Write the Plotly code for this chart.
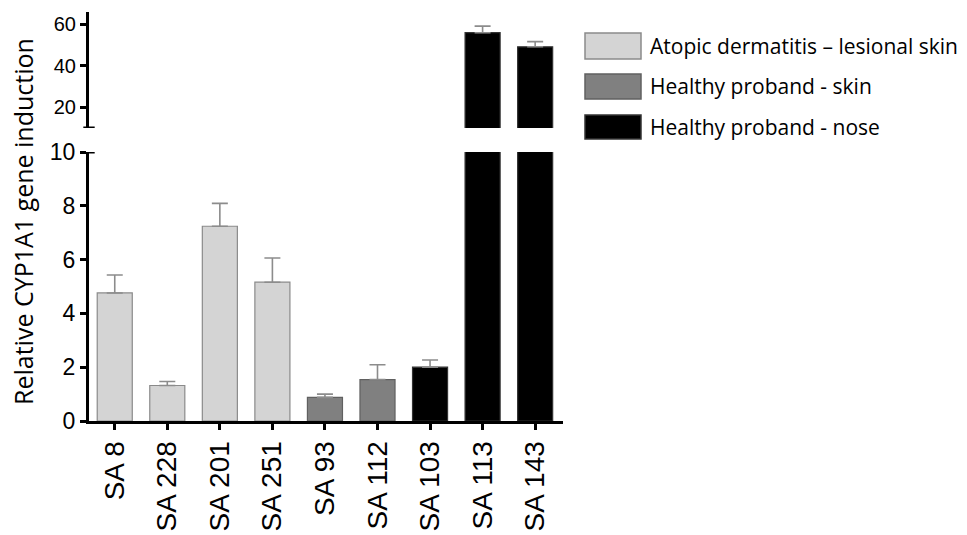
import plotly.graph_objects as go

categories = ["SA 8", "SA 228", "SA 201", "SA 251", "SA 93", "SA 112", "SA 103", "SA 113", "SA 143"]
values = [4.76, 1.32, 7.24, 5.16, 0.88, 1.54, 2.0, 56.0, 49.2]
errors = [0.67, 0.15, 0.85, 0.90, 0.12, 0.55, 0.27, 3.2, 2.5]
groups = [0, 0, 0, 0, 1, 1, 2, 2, 2]
group_names = ["Atopic dermatitis – lesional skin", "Healthy proband - skin", "Healthy proband - nose"]
group_fill = ["#d4d4d4", "#808080", "#000000"]
group_line = ["#8a8a8a", "#606060", "#333333"]

W, H = 967, 535
ML, MR, MT, MB = 89, 404, 12, 114
PW, PH = W - ML - MR, H - MT - MB

def px_x(p):
    return (p - ML) / PW

def px_y(p):
    return (H - MB - p) / PH

fig = go.Figure()
xs = list(range(len(categories)))
for yax in ["y", "y2"]:
    fig.add_trace(go.Bar(
        x=xs, y=values, yaxis=yax, width=0.667,
        marker=dict(color=[group_fill[g] for g in groups],
                    line=dict(color=[group_line[g] for g in groups], width=1.2)),
        error_y=dict(type="data", symmetric=False, array=errors,
                     arrayminus=[0] * len(values), color="#8c8c8c",
                     thickness=1.6, width=8),
        showlegend=False, hoverinfo="skip",
    ))

lower_top = px_y(152)
upper_bot = px_y(128)

fig.update_layout(
    width=W, height=H,
    margin=dict(l=ML, r=MR, t=MT, b=MB, autoexpand=False),
    plot_bgcolor="white", paper_bgcolor="white",
    bargap=0.333, barmode="overlay",
    xaxis=dict(
        range=[-0.49, 8.53], tickmode="array", tickvals=xs, ticktext=categories,
        tickangle=-90, showline=True, linecolor="black", linewidth=3,
        ticks="outside", ticklen=6, tickwidth=3, tickcolor="black",
        showgrid=False, zeroline=False, anchor="y", automargin=False,
        tickfont=dict(family="Liberation Sans, Arial", size=28, color="black"),
    ),
    yaxis=dict(
        domain=[0, lower_top], range=[0, 10], tickvals=[0, 2, 4, 6, 8, 10],
        showline=True, linecolor="black", linewidth=3, automargin=False,
        ticks="outside", ticklen=6, tickwidth=3, tickcolor="black",
        showgrid=False, zeroline=False,
        tickfont=dict(family="Liberation Sans, Arial", size=23, color="black"),
    ),
    yaxis2=dict(
        domain=[upper_bot, 1], range=[10, 66], tickvals=[20, 40, 60],
        anchor="x", showline=True, linecolor="black", linewidth=3, automargin=False,
        ticks="outside", ticklen=6, tickwidth=3, tickcolor="black",
        showgrid=False, zeroline=False,
        tickfont=dict(family="Liberation Sans, Arial", size=20, color="black"),
    ),
)

# small end caps at the axis break
fig.add_shape(type="line", xref="x domain", yref="y", x0=-0.012, x1=0.012, y0=10, y1=10,
              line=dict(color="black", width=3))
fig.add_shape(type="line", xref="x domain", yref="y2", x0=-0.012, x1=0.012, y0=10, y1=10,
              line=dict(color="black", width=3))

# y-axis title
fig.add_annotation(
    text="Relative CYP1A1 gene induction", textangle=-90,
    xref="paper", yref="paper", x=px_x(23), y=px_y(222),
    showarrow=False, xanchor="center", yanchor="middle",
    font=dict(family="Open Sans", size=25, color="black"),
)

# legend
rows = [(33, 59), (74, 99), (115, 139)]
for g, (t, b) in enumerate(rows):
    fig.add_shape(type="rect", xref="paper", yref="paper",
                  x0=px_x(585), x1=px_x(641), y0=px_y(b), y1=px_y(t),
                  fillcolor=group_fill[g], line=dict(color=group_line[g], width=1.5))
    fig.add_annotation(text=group_names[g], xref="paper", yref="paper",
                       x=px_x(648), y=px_y((t + b) / 2), showarrow=False,
                       xanchor="left", yanchor="middle",
                       font=dict(family="Open Sans", size=21, color="black"))

fig.write_html("out.html")
